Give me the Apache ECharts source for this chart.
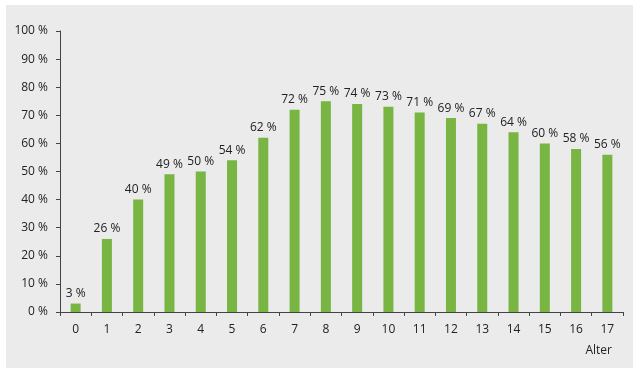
<!DOCTYPE html>
<html>
<head>
<meta charset="utf-8">
<script src="https://cdn.jsdelivr.net/npm/echarts@6/dist/echarts.min.js"></script>
<style>
    html, body { margin: 0; padding: 0; background: #ffffff; }
    #panel { position: absolute; left: 6px; top: 5px; width: 627px; height: 363px; background: #ebebeb; }
    #chart { width: 640px; height: 376px; position: absolute; left: 0; top: 0; }
</style>
</head>
<body>
<div id="panel"></div>
<div id="chart"></div>
<script>
var ages = ['0', '1', '2', '3', '4', '5', '6', '7', '8', '9', '10', '11', '12', '13', '14', '15', '16', '17'];
var shares = [3, 26, 40, 49, 50, 54, 62, 72, 75, 74, 73, 71, 69, 67, 64, 60, 58, 56];
var axisName = 'Alter';

var chart = echarts.init(document.getElementById('chart'));
var option = {
    animation: false,
    textStyle: {
        fontFamily: 'Open Sans'
    },
    grid: {
        left: 60,
        right: 17,
        top: 31,
        bottom: 64
    },
    xAxis: {
        type: 'category',
        data: ages,
        name: axisName,
        nameLocation: 'end',
        nameGap: 0,
        nameTextStyle: {
            color: '#222',
            fontSize: 12,
            align: 'right',
            verticalAlign: 'top',
            padding: [33, 11, 0, 0]
        },
        axisLine: {
            lineStyle: { color: '#444', width: 1 }
        },
        axisTick: {
            show: true,
            alignWithLabel: false,
            length: 4,
            lineStyle: { color: '#444' }
        },
        axisLabel: {
            color: '#222',
            fontSize: 12,
            margin: 12
        }
    },
    yAxis: {
        type: 'value',
        min: 0,
        max: 100,
        interval: 10,
        axisLine: {
            show: true,
            lineStyle: { color: '#444', width: 1 }
        },
        axisTick: {
            show: true,
            length: 4,
            lineStyle: { color: '#444' }
        },
        splitLine: { show: false },
        axisLabel: {
            color: '#222',
            fontSize: 12,
            margin: 12,
            formatter: '{value} %'
        }
    },
    series: [
        {
            type: 'bar',
            data: shares,
            barWidth: 10,
            itemStyle: {
                color: '#78b542'
            },
            label: {
                show: true,
                position: 'top',
                distance: 4,
                color: '#222',
                fontSize: 12,
                formatter: '{c} %'
            }
        }
    ]
};
chart.setOption(option);
</script>
</body>
</html>
